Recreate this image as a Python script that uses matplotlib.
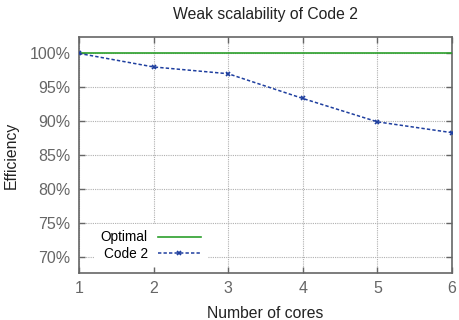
import matplotlib
matplotlib.use("Agg")
import matplotlib.pyplot as plt
from matplotlib.ticker import FuncFormatter

plt.rcParams['font.family'] = ['Liberation Sans', 'DejaVu Sans']

cores = [1, 2, 3, 4, 5, 6]
optimal = [100, 100, 100, 100, 100, 100]
code2 = [100.0, 98.0, 97.0, 93.35, 89.9, 88.3]
yticks = [70, 75, 80, 85, 90, 95, 100]

fig = plt.figure(figsize=(4.6, 3.2), dpi=100)
ax = fig.add_axes([0.1717, 0.147, 0.811, 0.738])

ax.plot(cores, optimal, color='#2ca02c', lw=1.2, label='Optimal', zorder=3)
ax.plot(cores, code2, color='#1f3f9f', lw=1.1, ls=(0, (2.2, 1.4)),
        marker='x', ms=3.5, mew=1.2, label='Code 2', zorder=3)

ax.set_xlim(1, 6)
ax.set_ylim(67.6, 102.45)
ax.set_xticks(cores)
ax.set_yticks(yticks)
ax.yaxis.set_major_formatter(FuncFormatter(lambda v, p: f"{v:.0f}%"))

ax.grid(True, color='#b0b0b0', ls=(0, (1, 1)), lw=0.8)
ax.set_axisbelow(True)

for s in ax.spines.values():
    s.set_color('#666666')
    s.set_linewidth(1.2)

ax.tick_params(direction='in', length=4, width=1, color='#666666',
               labelcolor='#666666', labelsize=11.5, top=True, right=True, pad=6)

ax.set_title('Weak scalability of Code 2', fontsize=11.3, color='#222222', pad=13)
ax.set_xlabel('Number of cores', fontsize=11.3, color='#222222', labelpad=7)
ax.set_ylabel('Efficiency', fontsize=11.3, color='#222222', labelpad=8)

leg = ax.legend(loc='lower left', bbox_to_anchor=(0.022, -0.005), markerfirst=False,
                frameon=True, fontsize=9.8, handlelength=3.15, handletextpad=0.75,
                labelspacing=0.15, borderpad=0.5, framealpha=1)
leg.get_frame().set_edgecolor('none')
leg.get_frame().set_facecolor('white')
leg.get_frame().set_boxstyle('square', pad=0.0)
for t in leg.get_texts():
    t.set_ha('right')
leg.set_zorder(2.5)

fig.savefig('out.png', dpi=100)
